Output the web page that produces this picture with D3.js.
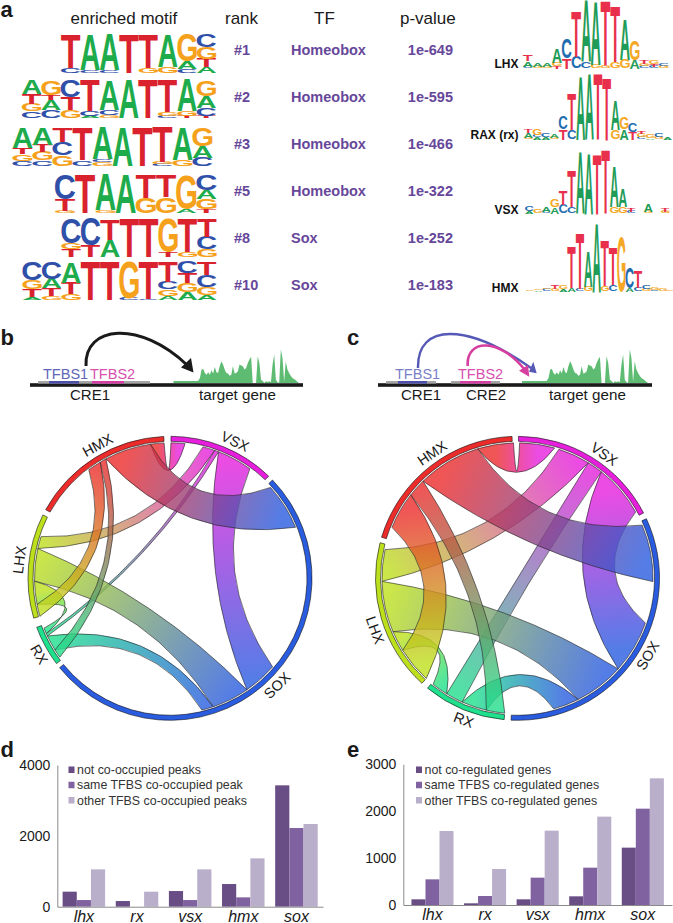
<!doctype html>
<html>
<head>
<meta charset="UTF-8">
<title>Motifs and co-occupancy</title>
<script src="https://cdnjs.cloudflare.com/ajax/libs/d3/7.8.5/d3.min.js"></script>
<style>
	html, body { margin: 0; padding: 0; background: #fff; }
	svg { display: block; }
	text { font-family: "Liberation Sans", Arial, sans-serif; }
</style>
</head>
<body>
<svg id="fig" width="673" height="923"></svg>
<script>
// panel a: rows of the table
const ranks = ['#1', '#2', '#3', '#5', '#8', '#10'];
const tfNames = ['Homeobox', 'Homeobox', 'Homeobox', 'Homeobox', 'Sox', 'Sox'];
const pValues = ['1e-649', '1e-595', '1e-466', '1e-322', '1e-252', '1e-183'];

// sequence logos, each column is a stack read from bottom to top
const motif1 = [
	[['C',.13],['T',.87]], [['C',.08],['A',.92]], [['C',.07],['A',.93]], [['T',1]],
	[['G',.14],['T',.86]], [['G',.15],['A',.85]], [['C',.1],['A',.2],['G',.7]], [['A',.15],['T',.22],['G',.3],['C',.33]]
];
const motif2 = [
	[['C',.17],['G',.2],['T',.25],['A',.36]], [['C',.2],['A',.28],['T',.12],['G',.36]], [['G',.2],['T',.33],['C',.45]],
	[['A',.06],['C',.12],['T',.82]], [['G',.08],['C',.14],['A',.78]], [['A',1]], [['T',1]],
	[['C',.06],['G',.1],['T',.84]], [['T',.05],['G',.12],['A',.83]], [['T',.06],['C',.2],['A',.3],['G',.42]]
];
const motif3 = [
	[['C',.13],['G',.17],['T',.18],['A',.52]], [['C',.14],['G',.22],['T',.19],['A',.45]], [['G',.27],['C',.35],['T',.38]],
	[['C',.15],['T',.85]], [['G',.1],['C',.07],['A',.83]], [['A',1]], [['T',1]],
	[['C',.05],['G',.05],['T',.9]], [['G',.15],['A',.85]], [['C',.22],['A',.3],['G',.48]]
];
const motif4 = [
	[['G',.05],['T',.3],['C',.65]], [['T',1]], [['G',.07],['A',.93]], [['A',1]],
	[['G',.4],['T',.6]], [['G',.42],['T',.58]], [['A',.1],['G',.9]], [['T',.1],['G',.27],['A',.23],['C',.4]]
];
const motif5 = [
	[['T',.2],['G',.15],['C',.65]], [['T',.3],['C',.7]], [['A',.45],['T',.55]], [['T',1]],
	[['T',1]], [['T',.12],['G',.88]], [['G',.12],['T',.88]], [['G',.2],['C',.33],['T',.47]]
];
const motif6 = [
	[['A',.07],['T',.2],['G',.25],['C',.48]], [['G',.1],['T',.2],['A',.25],['C',.45]], [['G',.15],['T',.3],['A',.55]],
	[['T',1]], [['T',1]], [['C',.05],['G',.95]], [['C',.03],['T',.97]],
	[['A',.1],['G',.17],['C',.2],['T',.53]], [['A',.2],['G',.23],['T',.28],['C',.29]], [['A',.13],['G',.2],['C',.32],['T',.35]]
];
const enrichedMotifs = [motif1, motif2, motif3, motif4, motif5, motif6];

// known motifs on the right
const lhxMotif = [
	[['C',.03],['A',.08],['T',.1]], [['G',.03],['A',.06]], [['G',.03],['A',.06]], [['T',.04],['G',.05],['A',.22]],
	[['T',.15],['C',.3]], [['C',.17],['T',.68]], [['C',.1],['A',.95]], [['G',.05],['A',.97]], [['G',.04],['T',.98]],
	[['G',.1],['T',.85]], [['G',.13],['A',.6]], [['A',.13],['G',.3]], [['C',.03],['G',.04],['T',.05]],
	[['C',.03],['T',.03],['G',.05]], [['G',.03],['C',.03]]
];
const raxMotif = [
	[['G',.03],['A',.07],['T',.05]], [['A',.03],['C',.03],['G',.1]], [['A',.04],['C',.06]], [['G',.03],['A',.05]],
	[['T',.16],['C',.2]], [['C',.14],['T',.55]], [['A',.97]], [['A',1]], [['T',1]], [['T',.95]],
	[['G',.14],['A',.45]], [['A',.15],['G',.17]], [['T',.11],['C',.13]], [['C',.03],['G',.05],['T',.03]],
	[['A',.02],['G',.05]], [['G',.03],['C',.06]], [['A',.04]]
];
const vsxMotif = [
	[['A',.03],['C',.07]], [['G',.05]], [['C',.03],['A',.07]], [['A',.1],['G',.12]], [['C',.13],['T',.22]],
	[['C',.1],['T',.55]], [['A',.95]], [['A',.93]], [['T',.9]], [['T',.97]], [['G',.1],['A',.6]], [['G',.1],['A',.27]],
	[['C',.03],['T',.05]], [], [['G',.03],['A',.12]], [], [['G',.03],['T',.05]]
];
const hmxMotif = [
	[['G',.02]], [['A',.02],['G',.02]], [['C',.03],['G',.02]], [['G',.03],['T',.05]], [['A',.03],['G',.05]],
	[['A',.05],['T',.6]], [['C',.03],['T',.8]], [['G',.07],['A',.5]], [['A',1]], [['G',.08],['T',.65]],
	[['C',.1],['T',.55]], [['G',.8]], [['A',.05],['C',.3]], [['C',.05],['T',.25]], [['G',.03],['C',.06]],
	[['C',.02],['G',.03]], [['G',.03]], [['G',.02]]
];
const knownMotifs = [lhxMotif, raxMotif, vsxMotif, hmxMotif];
const knownNames = ['LHX', 'RAX (rx)', 'VSX', 'HMX'];

// read-coverage profile of the target gene
const coverage = [6,6,6,6,6,6,6,6,6,6,6,6,6,6,6,7,15,40,42,30,25,32,25,38,28,48,32,30,50,65,55,40,30,28,22,25,50,28,30,35,55,52,50,40,45,60,70,78,0,0,0,80,60,10,6,0,5,3,5,2,55,85,10,2,0,100,75,4,65,40,30,22,15,12,8,4,0];

// chord diagrams: group order and, per group, the clockwise run of [partner, width]; null is an unlinked stretch
const chordGroups = ['VSX', 'SOX', 'RX', 'LHX', 'HMX'];
const chordColors = ['#e61fdc', '#2a5ce0', '#1fe08c', '#bde01c', '#ec2b2b'];
const chordB = [
	[['HMX',6],[null,7.7],['LHX',5.2],['RX',1.7],['SOX',15.1],[null,7.9]],
	[[null,1.7],['HMX',20],[null,62.9],['VSX',14.6],['LHX',16],['RX',5],[null,64.6]],
	[[null,1.3],['HMX',3.7],['SOX',6.7],['VSX',1.1],['LHX',2.5],[null,1.4]],
	[['HMX',5.2],['RX',9.9],['SOX',13.9],['VSX',5.2],[null,8.6]],
	[[null,24.3],['LHX',5.8],['RX',2.8],['SOX',19.9],['VSX',5.8]]
];
const chordC = [
	[[null,.5],['HMX',15],[null,1.9],['LHX',13.7],['RX',6.7],['SOX',22.5],[null,1.9]],
	[[null,1.7],['HMX',24.5],[null,17.9],['VSX',22.7],['LHX',21.4],['RX',11.1],[null,18.1]],
	[['HMX',7.9],['SOX',10.8],['VSX',7.4],['LHX',7],[null,.8]],
	[['HMX',15.6],['RX',8.9],['SOX',21.9],['VSX',13.5],[null,2.3]],
	[[null,5.3],['LHX',15.9],['RX',7.8],['SOX',27.1],['VSX',15.4],[null,-.5]]
];
const chordGapsB = [2.2, 2.1, 3.9, 2.4, 2.7];
const chordGapsC = [2.6, 2.8, 3, 2.3, 2.7];
const chordLabelAnglesB = [25.4, 135, 239.8, 277, 331.5];
const chordLabelAnglesC = [34.9, 120.7, 200.8, 250, 325.7];

// panels d and e
const genes = ['lhx', 'rx', 'vsx', 'hmx', 'sox'];
const dNotCo = [424, 160, 442, 640, 3426];
const dSame = [188, 0, 188, 264, 2221];
const dOther = [1054, 424, 1054, 1365, 2334];
const dLegend = ['not co-occupied peaks', 'same TFBS co-occupied peak', 'other TFBS co-occupied peaks'];
const dTicks = [0, 2000, 4000];
const eNotCo = [121, 36, 121, 185, 1223];
const eSame = [547, 192, 583, 796, 2054];
const eOther = [1578, 768, 1585, 1884, 2701];
const eLegend = ['not co-regulated genes', 'same TFBS co-regulated genes', 'other TFBS co-regulated genes'];
const eTicks = [0, 1000, 2000, 3000];
const barColors = ['#694d85', '#8062a0', '#b9afcb'];

const purple = '#67479a';
const letterColor = {A: '#1eab4b', C: '#2f4fa8', G: '#f5a11c', T: '#d9222e'};
const knownColor = {A: '#1f9c58', C: '#1f6cb0', G: '#f4a825', T: '#e8304c'};
const svg = d3.select('#fig');
const defs = svg.append('defs');

function label(x, y, str, size, opts) {
	opts = opts || {};
	return svg.append('text')
		.attr('x', x).attr('y', y)
		.attr('font-size', size)
		.attr('fill', opts.fill || '#1a1a1a')
		.attr('font-weight', opts.weight || null)
		.attr('font-style', opts.style || null)
		.attr('text-anchor', opts.anchor || 'start')
		.text(str);
}

// panel letters
label(0.5, 17, 'a', 22, {weight: 'bold'});
label(0.5, 345, 'b', 22, {weight: 'bold'});
label(347, 345, 'c', 22, {weight: 'bold'});
label(0.5, 757, 'd', 22, {weight: 'bold'});
label(347, 757, 'e', 22, {weight: 'bold'});

// header of the table
label(70.5, 24, 'enriched motif', 17);
label(225, 24, 'rank', 17);
label(314, 24, 'TF', 17);
label(400, 24, 'p-value', 17);

const rowCenter = d3.scalePoint().domain(d3.range(6)).range([50, 285]);
ranks.forEach(function(r, i) {
	const y = rowCenter(i) + 5;
	label(234, y, r, 14.5, {fill: purple, weight: 'bold'});
	label(291, y, tfNames[i], 14.5, {fill: purple, weight: 'bold'});
	label(453, y, pValues[i], 14.5, {fill: purple, weight: 'bold', anchor: 'end'});
});

// letters have to fill their box exactly, so measure the ink and not the font box
const measureCtx = document.createElement('canvas').getContext('2d');
measureCtx.font = 'bold 100px "Liberation Sans"';
const ink = {};
'ACGT'.split('').forEach(function(l) {
	const m = measureCtx.measureText(l);
	ink[l] = {left: -m.actualBoundingBoxLeft, right: m.actualBoundingBoxRight, top: m.actualBoundingBoxAscent, bottom: m.actualBoundingBoxDescent};
});

function drawLogo(columns, xLeft, colWidth, yBase, unit, palette) {
	const g = svg.append('g');
	const x = d3.scaleBand().domain(d3.range(columns.length)).range([xLeft, xLeft + colWidth * columns.length]);
	const y = d3.scaleLinear().domain([0, 1]).range([yBase, yBase - unit]);
	columns.forEach(function(col, i) {
		let sum = 0;
		col.forEach(function(d) {
			const box = ink[d[0]];
			const top = y(sum + d[1]);
			const sx = x.bandwidth() / (box.right - box.left);
			const sy = (y(sum) - top) / (box.top + box.bottom);
			g.append('text')
				.attr('font-size', 100)
				.attr('font-weight', 'bold')
				.attr('fill', palette[d[0]])
				.attr('transform', 'translate(' + x(i) + ',' + top + ') scale(' + sx + ',' + sy + ') translate(' + (-box.left) + ',' + box.top + ')')
				.text(d[0]);
			sum += d[1];
		});
	});
}

const logoLeft = [61, 22, 12.5, 55, 61.5, 22.5];
const logoWidth = [19.4, 19.4, 20, 20.2, 19.4, 19.4];
const logoBase = [73, 118, 166, 213, 257, 300];
enrichedMotifs.forEach(function(m, i) {
	drawLogo(m, logoLeft[i], logoWidth[i], logoBase[i], 38.5, letterColor);
});

const knownLeft = [523, 524, 525, 526];
const knownWidth = [9.7, 8.7, 8.5, 8.3];
const knownBase = [68.5, 139.5, 213.5, 291.5];
const knownUnit = [66, 66, 66, 69];
const knownLabelY = [68, 139, 214, 292];
knownMotifs.forEach(function(m, i) {
	drawLogo(m, knownLeft[i], knownWidth[i], knownBase[i], knownUnit[i], knownColor);
	label(518.5, knownLabelY[i], knownNames[i], 12, {weight: 'bold', fill: '#111', anchor: 'end'});
});

// regulatory element sketches
function drawGene(barLeft, barRight, greenLeft, greenRight) {
	const x = d3.scaleLinear().domain([0, coverage.length - 1]).range([greenLeft, greenRight]);
	const y = d3.scaleLinear().domain([0, 100]).range([383, 349.5]);
	const area = d3.area().x(function(d, i) { return x(i); }).y0(383).y1(function(d) { return y(d); });
	svg.append('path').attr('d', area(coverage)).attr('fill', '#5dbb72');
	svg.append('rect').attr('x', barLeft).attr('y', 383.2).attr('width', barRight - barLeft).attr('height', 3.6).attr('fill', '#1a1a1a');
}

function drawSegment(x0, x1, color) {
	svg.append('rect').attr('x', x0).attr('y', 381).attr('width', x1 - x0).attr('height', 2.6).attr('fill', color);
}

function drawArrow(x0, y0, x1, y1, cx1, cy1, cx2, cy2, color, width, head) {
	const p = d3.path();
	p.moveTo(x0, y0);
	p.bezierCurveTo(cx1, cy1, cx2, cy2, x1, y1);
	svg.append('path').attr('d', p.toString()).attr('fill', 'none').attr('stroke', color).attr('stroke-width', width);
	svg.append('path').attr('d', d3.line()(head)).attr('fill', color);
}

drawGene(30, 303, 173.5, 299);
drawSegment(38, 150, '#a5a5a5');
drawSegment(49, 79, '#4d50a8');
drawSegment(92, 124, '#d53fa4');
label(43, 379, 'TFBS1', 14.5, {fill: '#6065b8'});
label(90, 379, 'TFBS2', 14.5, {fill: '#d84fae'});
label(70, 400, 'CRE1', 15);
label(199, 400, 'target gene', 15.2);
drawArrow(86, 366, 187, 365, 84, 325, 140, 320, '#1a1a1a', 3, [[193.5, 372.5], [181, 367.5], [191, 358]]);

drawGene(378, 652, 522, 648);
drawSegment(386, 436, '#a5a5a5');
drawSegment(398, 427, '#4d50a8');
drawSegment(451, 500, '#a5a5a5');
drawSegment(460, 491, '#d53fa4');
label(395, 379, 'TFBS1', 14.5, {fill: '#7a7fc8'});
label(458, 379, 'TFBS2', 14.5, {fill: '#d84fae'});
label(401, 400, 'CRE1', 15);
label(466, 400, 'CRE2', 15);
label(549, 400, 'target gene', 15.2);
drawArrow(418, 368, 531, 368, 417, 322.7, 467, 322.7, '#5558b5', 2.4, [[536.7, 373.3], [529, 371.7], [533.3, 361.7]]);
drawArrow(467.7, 366, 525, 370, 466, 338, 500, 338, '#d63fa0', 2.6, [[529.3, 376.7], [519, 370.7], [528, 365]]);

// how far the control point of a ribbon edge stays from the centre, by angle between its ends
const ribbonPull = d3.scaleLinear().domain([0, 30, 50, 95, 137, 180]).range([0.58, 0.62, 0.52, 0.28, 0.18, 0]);

// chord diagram with groups laid out clockwise from the top
function drawChord(segments, gaps, labelAngles, cx, cy, prefix) {
	const bandOuter = 142, bandInner = 137, ribbonR = 135.5;
	const rad = d3.scaleLinear().domain([0, 360]).range([0, 2 * Math.PI]);
	const g = svg.append('g').attr('transform', 'translate(' + cx + ',' + cy + ')');
	const colorOf = d3.scaleOrdinal().domain(chordGroups).range(chordColors);
	const groups = [];
	const slots = {};
	let pos = 0.4;
	segments.forEach(function(list, i) {
		const start = pos;
		list.forEach(function(s) {
			if (s[0]) slots[chordGroups[i] + '>' + s[0]] = [pos, pos + s[1]];
			pos += s[1];
		});
		groups.push({name: chordGroups[i], start: start, end: pos});
		pos += gaps[i];
	});

	function polar(r, deg) {
		const a = rad(deg) - Math.PI / 2;
		return [r * Math.cos(a), r * Math.sin(a)];
	}
	function bend(path, fromDeg, toDeg) {
		const sep = Math.min(Math.abs(fromDeg - toDeg), 360 - Math.abs(fromDeg - toDeg));
		const p0 = polar(ribbonR, fromDeg), p2 = polar(ribbonR, toDeg);
		const k = ribbonR * ribbonPull(sep);
		const mx = p0[0] + p2[0], my = p0[1] + p2[1];
		const len = Math.hypot(mx, my) || 1;
		path.quadraticCurveTo(mx / len * k, my / len * k, p2[0], p2[1]);
	}

	let n = 0;
	chordGroups.forEach(function(a, i) {
		chordGroups.forEach(function(b, j) {
			if (j <= i || !slots[a + '>' + b] || !slots[b + '>' + a]) return;
			const s = slots[a + '>' + b], t = slots[b + '>' + a];
			const p = d3.path();
			const st = polar(ribbonR, s[0]);
			p.moveTo(st[0], st[1]);
			p.arc(0, 0, ribbonR, rad(s[0]) - Math.PI / 2, rad(s[1]) - Math.PI / 2);
			bend(p, s[1], t[0]);
			p.arc(0, 0, ribbonR, rad(t[0]) - Math.PI / 2, rad(t[1]) - Math.PI / 2);
			bend(p, t[1], s[0]);
			p.closePath();
			const from = polar(ribbonR, (s[0] + s[1]) / 2), to = polar(ribbonR, (t[0] + t[1]) / 2);
			const id = prefix + (n++);
			const grad = defs.append('linearGradient').attr('id', id).attr('gradientUnits', 'userSpaceOnUse')
				.attr('x1', from[0]).attr('y1', from[1]).attr('x2', to[0]).attr('y2', to[1]);
			grad.append('stop').attr('offset', '0%').attr('stop-color', colorOf(a));
			grad.append('stop').attr('offset', '100%').attr('stop-color', colorOf(b));
			g.append('path').attr('d', p.toString())
				.attr('fill', 'url(#' + id + ')')
				.attr('fill-opacity', 0.8)
				.attr('stroke', '#222')
				.attr('stroke-width', 0.6);
		});
	});

	const band = d3.arc().innerRadius(bandInner).outerRadius(bandOuter);
	g.selectAll('path.band').data(groups).enter().append('path')
		.attr('class', 'band')
		.attr('d', function(d) { return band({startAngle: rad(d.start), endAngle: rad(d.end)}); })
		.attr('fill', function(d) { return colorOf(d.name); })
		.attr('stroke', '#111')
		.attr('stroke-width', 0.6);

	groups.forEach(function(d, i) {
		const deg = labelAngles[i];
		const pt = polar(151.5, deg);
		const rot = (deg > 90 && deg < 270) ? deg - 180 : deg;
		g.append('text')
			.attr('transform', 'translate(' + pt[0] + ',' + pt[1] + ') rotate(' + rot + ')')
			.attr('text-anchor', 'middle')
			.attr('dominant-baseline', 'central')
			.attr('font-size', 14.5)
			.attr('fill', '#1a1a1a')
			.text(d.name);
	});
}

drawChord(chordB, chordGapsB, chordLabelAnglesB, 170, 578.3, 'rb');
drawChord(chordC, chordGapsC, chordLabelAnglesC, 517.5, 578.3, 'rc');

// grouped bar charts
function drawBars(series, legend, ticks, maxValue, axisLeft, axisRight, yTop, yZero, outerPad, legendX) {
	const x = d3.scaleBand().domain(genes).range([axisLeft, axisRight]).paddingInner(0.2).paddingOuter(outerPad);
	const inner = d3.scaleBand().domain(d3.range(3)).range([0, x.bandwidth()]);
	const y = d3.scaleLinear().domain([0, maxValue]).range([yZero, yTop]);
	const g = svg.append('g');

	series.forEach(function(values, s) {
		g.selectAll('rect.s' + s).data(values).enter().append('rect')
			.attr('class', 's' + s)
			.attr('x', function(d, i) { return x(genes[i]) + inner(s); })
			.attr('y', function(d) { return y(d); })
			.attr('width', inner.bandwidth())
			.attr('height', function(d) { return yZero - y(d); })
			.attr('fill', barColors[s]);
	});

	const yAxis = g.append('g').attr('transform', 'translate(' + axisLeft + ',0)')
		.call(d3.axisLeft(y).tickValues(ticks).tickSize(0).tickPadding(7).tickFormat(d3.format('d')));
	yAxis.select('.domain').attr('stroke', '#8a8a8a').attr('stroke-width', 1);
	yAxis.selectAll('text').attr('font-size', 14).attr('font-family', '"Liberation Sans"').attr('fill', '#1a1a1a');

	const xAxis = g.append('g').attr('transform', 'translate(0,' + yZero + ')')
		.call(d3.axisBottom(x).tickSize(0).tickPadding(4));
	xAxis.select('.domain').attr('stroke', '#8a8a8a').attr('stroke-width', 1);
	xAxis.selectAll('text').attr('font-size', 16).attr('font-style', 'italic').attr('font-family', '"Liberation Sans"').attr('fill', '#1a1a1a');

	const rowY = d3.scalePoint().domain(d3.range(3)).range([769.5, 800]);
	legend.forEach(function(t, i) {
		g.append('rect').attr('x', legendX).attr('y', rowY(i) - 3).attr('width', 6).attr('height', 6.5).attr('fill', barColors[i]);
		label(legendX + 8.5, rowY(i) + 4.5, t, 12.4, {fill: '#333'});
	});
}

drawBars([dNotCo, dSame, dOther], dLegend, dTicks, 4000, 57.3, 323, 765, 906.7, 0.1, 68.5);
drawBars([eNotCo, eSame, eOther], eLegend, eTicks, 3000, 403.3, 672, 764.3, 905, 0.155, 416);
</script>
</body>
</html>
